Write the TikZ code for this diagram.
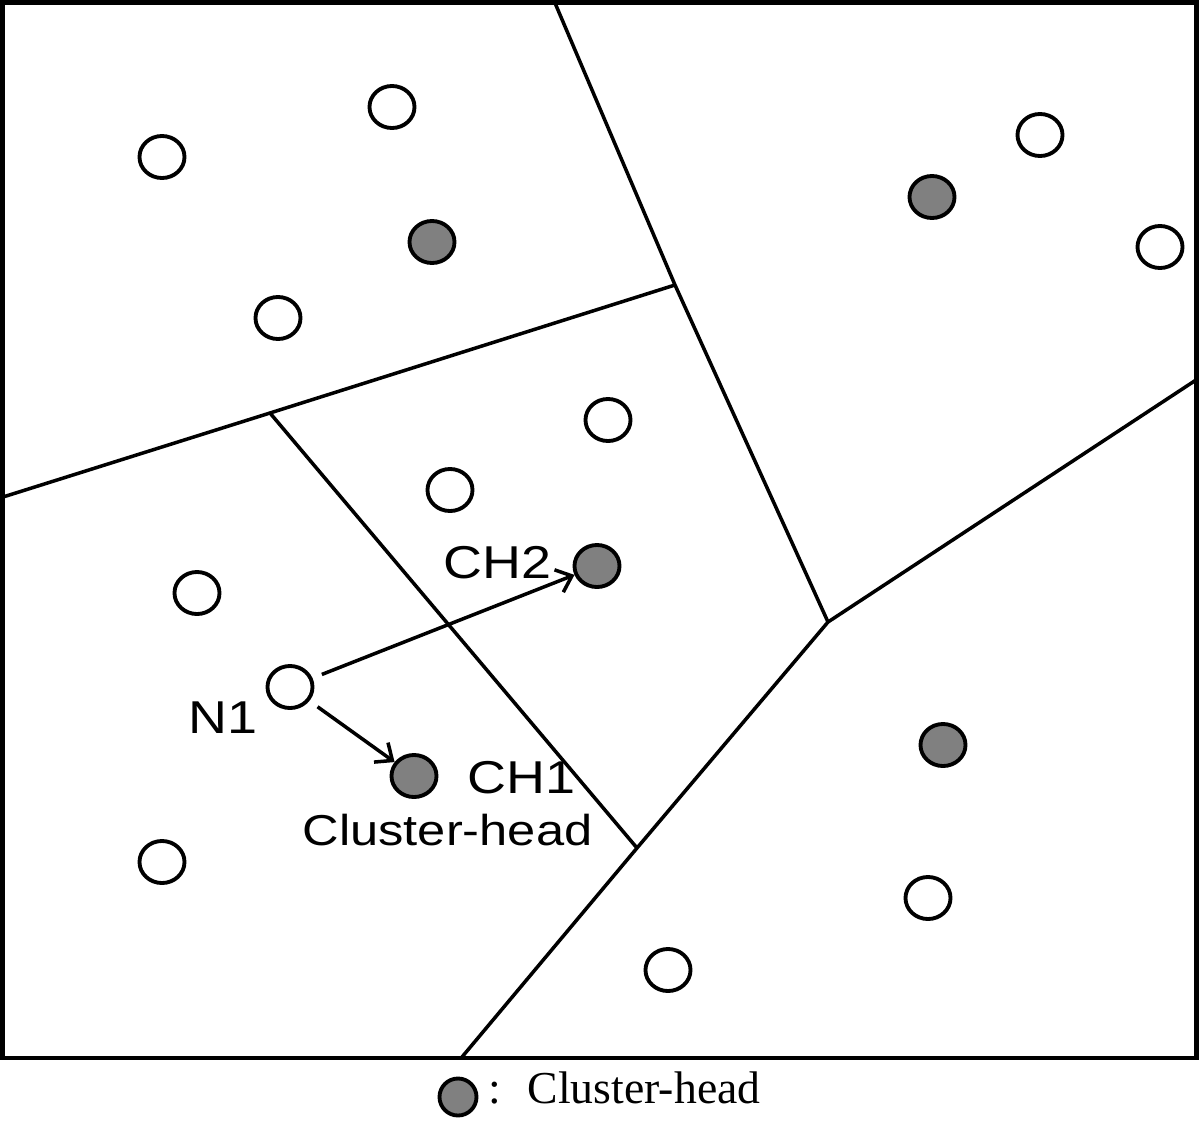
\documentclass[tikz,border=0pt]{standalone}
\usepackage{fontspec}
\setmainfont{Liberation Serif}
\newfontfamily\rotulofont[FakeStretch=1.17]{Liberation Sans}
\usetikzlibrary{arrows.meta,positioning,shapes.geometric}

\begin{document}
\begin{tikzpicture}[
x=0.01cm, y=-0.01cm,
no/.style={
ellipse,
draw,
line width=1.1pt,
minimum width=0.45cm,
minimum height=0.42cm,
inner sep=0pt,
fill=white
},
chefe/.style={no, fill=gray},
rotulo/.style={anchor=base west, inner sep=0pt, font=\rotulofont\fontsize{13.1}{15}\selectfont},
divisa/.style={line width=1pt, line join=round},
seta/.style={-{Straight Barb[length=1.4mm,width=2.4mm]}, line width=1pt, shorten <=1mm}
]
\useasboundingbox (0,0) rectangle (1200,1121);
\draw[line width=1.2pt] (2.5,2.5) rectangle (1196.5,1058);

\coordinate (p1) at (555,3);
\coordinate (p2) at (675,285);
\coordinate (p3) at (828,622);
\coordinate (q1) at (3,497);
\coordinate (q2) at (270,413);
\coordinate (q3) at (637,848);
\coordinate (r1) at (1196,380);
\coordinate (r2) at (462,1057);

\draw[divisa] (p1) -- (p2) -- (p3);
\draw[divisa] (q1) -- (q2) -- (p2);
\draw[divisa] (q2) -- (q3);
\draw[divisa] (r1) -- (p3) -- (q3) -- (r2);

\node[no] (s1) at (162,157) {};
\node[no] (s2) at (392,107) {};
\node[no] (s3) at (278,318) {};
\node[no] (s4) at (1040,135) {};
\node[no] (s5) at (1160,247) {};
\node[no] (s6) at (608,420) {};
\node[no] (s7) at (450,490) {};
\node[no] (s8) at (197,593) {};
\node[no] (n1) at (290,687) {};
\node[no] (s9) at (162,862) {};
\node[no] (s10) at (928,898) {};
\node[no] (s11) at (668,970) {};

\node[chefe] (c1) at (432,242) {};
\node[chefe] (c2) at (932,197) {};
\node[chefe] (ch2) at (597,566) {};
\node[chefe] (ch1) at (414,776) {};
\node[chefe] (c3) at (943,745) {};

\node[rotulo] (lch2) at (443,578) {CH2};
\node[rotulo] (ln1) at (188,733) {N1};
\node[rotulo] (lch1) at (467,793) {CH1};
\node[rotulo, font=\rotulofont\fontsize{12.3}{14}\selectfont] (lcab) at (302,845) {Cluster-head};

\draw[seta] (n1) -- (ch2);
\draw[seta] (n1) -- (ch1);

\node[chefe, minimum width=0.37cm, minimum height=0.37cm] (leg) at (458,1097) {};
\node[anchor=base west, inner sep=0pt, font=\fontsize{13}{15}\selectfont] (legtexto) at (488,1103) {:\hspace{7.5pt}Cluster-head};
\end{tikzpicture}
\end{document}
